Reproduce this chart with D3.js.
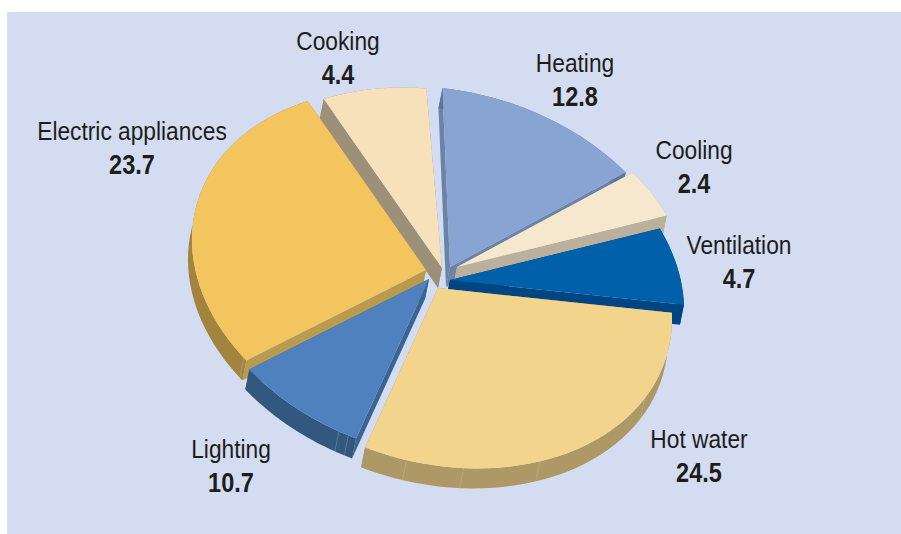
<!DOCTYPE html>
<html><head><meta charset="utf-8">
<script src="https://cdn.jsdelivr.net/npm/d3@7/dist/d3.min.js"></script>
<style>html,body{margin:0;background:#fff}svg{display:block}</style>
</head><body><div id="c"></div>
<script>
// ---- data ----
const categories = ["Heating","Cooling","Ventilation","Hot water","Lighting","Electric appliances","Cooking"];
const values = [12.8,2.4,4.7,24.5,10.7,23.7,4.4];
const valueLabels = ["12.8","2.4","4.7","24.5","10.7","23.7","4.4"];
// ---- styles ----
const topColors  = ["#88a4d3","#f6e8cf","#0060a9","#f3d48d","#4f81bf","#f3c55f","#f6e1bb"];
const arcColors  = ["#5c7599","#bab09c","#004583","#ad9866","#33587f","#a3843f","#9c9079"];
const cutColors  = ["#6b83a8","#bab09c","#004583","#a8935f","#3a6593","#b89b4f","#9c9079"];
// ---- layout ----
const W=901,H=534, cx=441, cy=279, rx=238.5, ry=174.5, tilt=16.4*Math.PI/180, depth=[-4,20];
// angles at which the printed (distorted) pie shows the slice boundaries, degrees clockwise from top
const seenAngles=[-14,36.5,51.5,76,186,218,317.5,344];
const pullX=[9,16,9,-3,-12,-15,1], pullY=[-12,-12,1,9,0,-9,-11];
const labelX=[575,694,739,699,231,132,338], labelY=[72,159,254,448,458,140,50], valueGap=34;
const nameSize=26, nameSquash=.875, valueSize=28, valueSquash=.84;
const paintOrder=[6,0,1,2,5,4,3];
const facetAngles=[[],[],[],[175.6,161.6,142,105.9],[188,190.5],[219],[]];

const pieData=d3.pie().value(d=>d).sort(null).startAngle(0).endAngle(2*Math.PI)(values);
const warp=d3.scaleLinear()
  .domain([0,...pieData.map(d=>d.endAngle)])
  .range(seenAngles);
const proj=deg=>{const t=deg*Math.PI/180,x=rx*Math.sin(t),y=-ry*Math.cos(t);
  return [x*Math.cos(tilt)-y*Math.sin(tilt), x*Math.sin(tilt)+y*Math.cos(tilt)];};
const line=d3.line();
const svg=d3.select("#c").append("svg").attr("width",W).attr("height",H);
svg.append("rect").attr("x",7).attr("y",12).attr("width",W-7).attr("height",H-12).attr("fill","#d3dcf0");
const gPie=svg.append("g");
paintOrder.forEach(i=>{
  const d=pieData[i], a0=warp(d.startAngle), a1=warp(d.endAngle);
  const ox=cx+pullX[i], oy=cy+pullY[i];
  const arc=d3.range(0,41).map(k=>{const p=proj(a0+(a1-a0)*k/40);return [ox+p[0],oy+p[1]];});
  const apex=[ox,oy], drop=p=>[p[0]+depth[0],p[1]+depth[1]];
  const g=gPie.append("g");
  [arc[0],arc[40]].forEach(e=>{
    g.append("path").attr("d",line([apex,e,drop(e),drop(apex)])+"Z").attr("fill",cutColors[i]);
  });
  g.append("path").attr("d",line([...arc,...arc.slice().reverse().map(drop)])+"Z").attr("fill",arcColors[i]);
  facetAngles[i].forEach(a=>{const p=proj(a),q=[ox+p[0],oy+p[1]];
    g.append("path").attr("d",line([q,drop(q)])).attr("stroke","#d8cfb4").attr("stroke-opacity",.45).attr("stroke-width",.6).attr("fill","none");});
  g.append("path").attr("d",line([apex,...arc])+"Z").attr("fill",topColors[i]);
});
const gT=svg.append("g").attr("text-anchor","middle").attr("fill","#1d1d1b").attr("font-family","'Liberation Sans',Arial,sans-serif");
categories.forEach((c,i)=>{
  gT.append("text").attr("transform",`translate(${labelX[i]},${labelY[i]}) scale(${nameSquash},1)`).attr("font-size",nameSize).text(c);
  gT.append("text").attr("transform",`translate(${labelX[i]},${labelY[i]+valueGap}) scale(${valueSquash},1)`).attr("font-size",valueSize).attr("font-weight","bold").text(valueLabels[i]);
});
</script></body></html>
